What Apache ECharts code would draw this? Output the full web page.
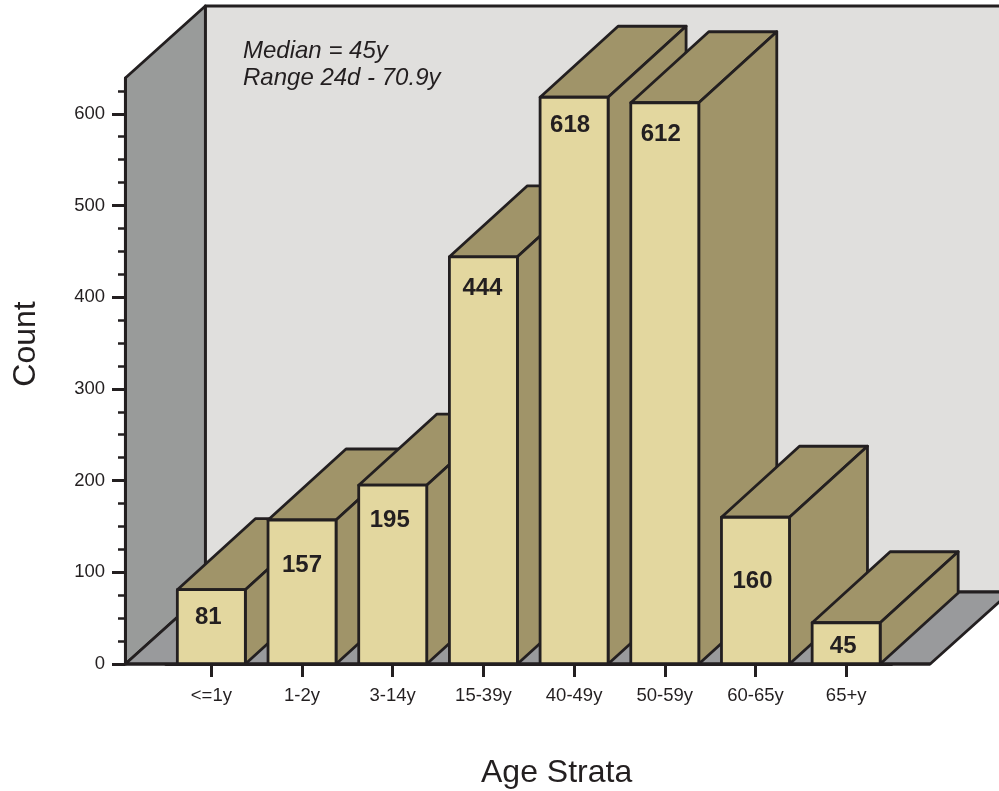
<!DOCTYPE html>
<html>
<head>
<meta charset="utf-8">
<style>
  html, body { margin: 0; padding: 0; background: #fff; }
  #chart { width: 999px; height: 791px; }
</style>
<script src="https://cdn.jsdelivr.net/npm/echarts@6/dist/echarts.min.js"></script>
</head>
<body>
<div id="chart"></div>
<script>
var categories = ['<=1y', '1-2y', '3-14y', '15-39y', '40-49y', '50-59y', '60-65y', '65+y'];
var counts = [81, 157, 195, 444, 618, 612, 160, 45];
var yTicks = [0, 100, 200, 300, 400, 500, 600];
var notes = ['Median = 45y', 'Range 24d - 70.9y'];

// label nudge from bar centre / bar top, the labels are hand placed in the original
var labelDx = [-3, 0, -3, -1, -4, -4, -3, -3];
var labelDy = [28, 45, 35, 32, 28, 32, 64, 24];

var FONT = '"Liberation Sans", Arial, sans-serif';
var INK = '#231f20';
var LINE = 2.8;
var BAR_W = 68;
var BAR_DX = 78, BAR_DY = -71;
var WALL_DX = 80, WALL_DY = -72;
var Y_TOP = 639;

var chart = echarts.init(document.getElementById('chart'), null, { renderer: 'canvas' });

function poly(points, fill) {
  return {
    type: 'polygon',
    shape: { points: points },
    style: { fill: fill, stroke: INK, lineWidth: LINE, lineJoin: 'round' }
  };
}

function renderWalls(params, api) {
  var o = api.coord([0, 0]);
  var top = api.coord([0, Y_TOP]);
  var end = api.coord([categories.length - 1, 0]);
  var x0 = o[0] - 86;
  var x1 = end[0] + 84;
  var bx = x0 + WALL_DX, by = o[1] + WALL_DY, ty = top[1] + WALL_DY;
  return {
    type: 'group',
    children: [
      poly([[bx, ty], [1020, ty], [1020, by], [bx, by]], '#e0dfdd'),
      poly([[x0, top[1]], [bx, ty], [bx, by], [x0, o[1]]], '#999b9a'),
      poly([[x0, o[1]], [bx, by], [x1 + WALL_DX, by], [x1, o[1]]], '#999a9c')
    ]
  };
}

function renderBar(params, api) {
  var i = api.value(0);
  var c = api.coord([i, 0]);
  var t = api.coord([i, api.value(1)]);
  var l = c[0] - BAR_W / 2, r = c[0] + BAR_W / 2;
  return {
    type: 'group',
    children: [
      poly([[l, t[1]], [l + BAR_DX, t[1] + BAR_DY], [r + BAR_DX, t[1] + BAR_DY], [r, t[1]]], '#a09469'),
      poly([[r, t[1]], [r + BAR_DX, t[1] + BAR_DY], [r + BAR_DX, c[1] + BAR_DY], [r, c[1]]], '#a09469'),
      poly([[l, t[1]], [r, t[1]], [r, c[1]], [l, c[1]]], '#e3d79f'),
      {
        type: 'text',
        x: c[0] + labelDx[i],
        y: t[1] + labelDy[i],
        style: {
          text: String(api.value(1)),
          font: 'bold 24px ' + FONT,
          fill: INK,
          align: 'center',
          verticalAlign: 'middle'
        }
      }
    ]
  };
}

function renderBase(params, api) {
  var o = api.coord([0, 0]);
  var end = api.coord([categories.length - 1, 0]);
  return {
    type: 'line',
    shape: { x1: o[0] - 86, y1: o[1], x2: end[0] + 84, y2: o[1] },
    style: { stroke: INK, lineWidth: 3 }
  };
}

var option = {
  animation: false,
  backgroundColor: '#fff',
  grid: { left: 166, right: 107.5, top: 78, bottom: 127 },
  xAxis: {
    type: 'category',
    data: categories,
    z: 6,
    axisLine: { show: true, lineStyle: { color: INK, width: 3 } },
    axisTick: { show: true, alignWithLabel: true, length: 13, lineStyle: { color: INK, width: 3 } },
    axisLabel: { color: INK, fontFamily: FONT, fontSize: 18.5, margin: 22, interval: 0 }
  },
  yAxis: {
    type: 'value',
    min: 0,
    max: Y_TOP,
    interval: 100,
    offset: 41,
    z: 6,
    splitLine: { show: false },
    axisLine: { show: true, lineStyle: { color: INK, width: 3 } },
    axisTick: { show: true, length: 13, customValues: yTicks, lineStyle: { color: INK, width: 3 } },
    minorTick: { show: true, splitNumber: 4, length: 7, lineStyle: { color: INK, width: 2.5 } },
    axisLabel: { color: INK, fontFamily: FONT, fontSize: 18.5, margin: 20, padding: [6, 0, 0, 0], customValues: yTicks }
  },
  graphic: [
    {
      type: 'text', left: 243, top: 37.5, z: 10,
      style: { text: notes.join('\n'), font: 'italic 24px ' + FONT, lineHeight: 27, fill: INK }
    },
    {
      type: 'text', left: 481, top: 757, z: 10,
      style: { text: 'Age Strata', font: '32px ' + FONT, fill: INK }
    },
    {
      type: 'text', x: 26, y: 344, rotation: Math.PI / 2, z: 10,
      style: { text: 'Count', font: '32px ' + FONT, fill: INK, align: 'center', verticalAlign: 'middle' }
    }
  ],
  series: [
    { type: 'custom', z: 1, silent: true, renderItem: renderWalls, data: [[0, 0]], encode: { x: 0, y: 1 } },
    {
      type: 'custom',
      z: 3,
      silent: true,
      renderItem: renderBar,
      data: counts.map(function (v, i) { return [i, v]; }),
      encode: { x: 0, y: 1 }
    },
    { type: 'custom', z: 5, silent: true, renderItem: renderBase, data: [[0, 0]], encode: { x: 0, y: 1 } }
  ]
};

chart.setOption(option);
</script>
</body>
</html>
